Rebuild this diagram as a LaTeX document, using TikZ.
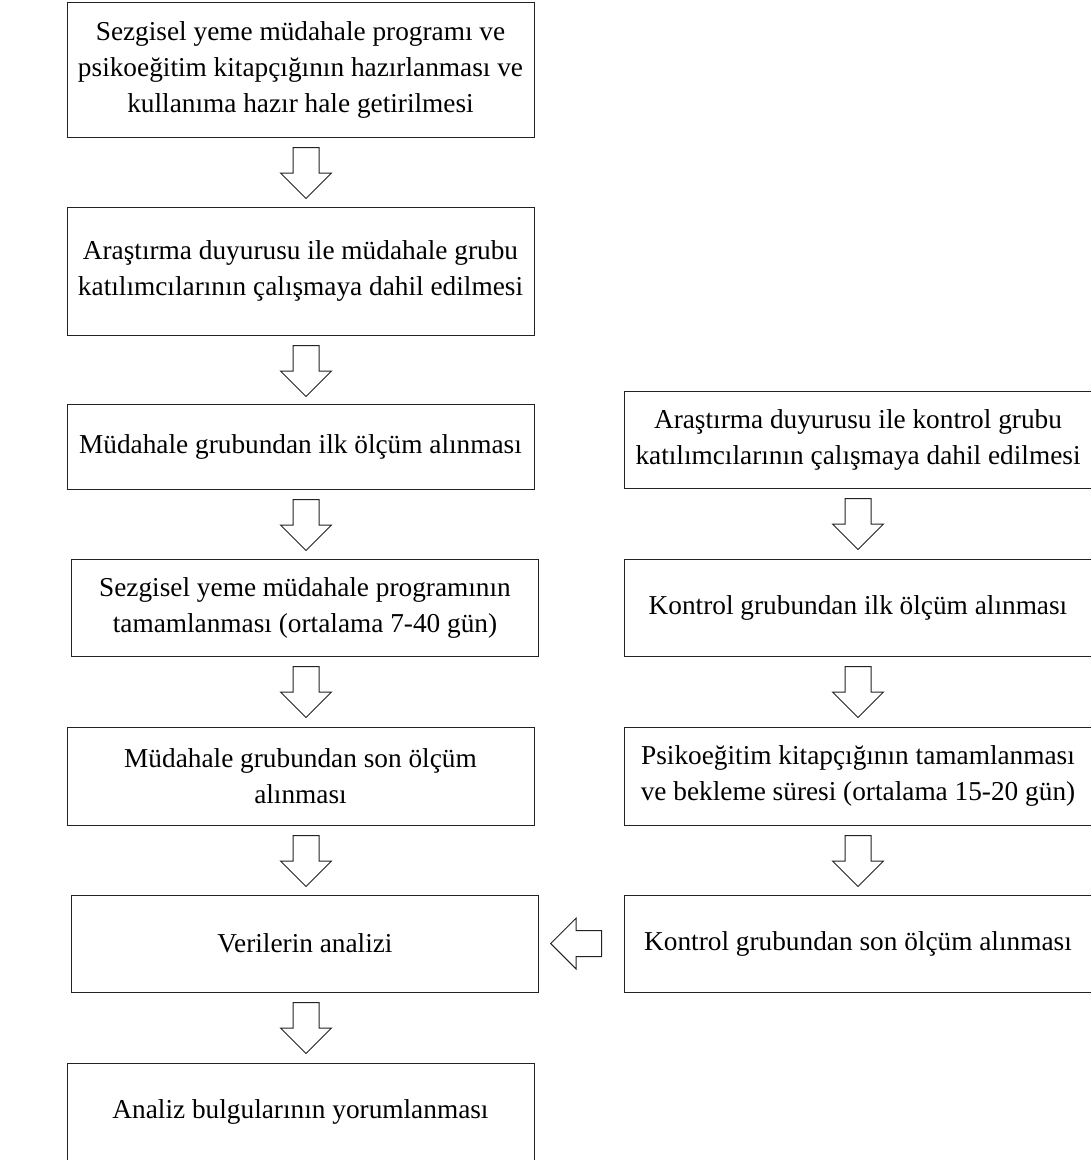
\documentclass[tikz,border=0pt]{standalone}
\usepackage{fontspec}
\setmainfont{Liberation Serif}
\usepackage{xcolor}
\usepackage{tikz}
\usetikzlibrary{shapes.arrows,calc}
\definecolor{boxline}{HTML}{222222}

\begin{document}
\begin{tikzpicture}[
    x=1pt, y=-1pt,
    stepbox/.style={draw=boxline, line width=1pt, align=center, inner sep=0pt, minimum width=467pt,
        font=\fontsize{27.3}{36}\selectfont},
    downarrow/.style={single arrow, draw=boxline, line width=1pt, minimum height=51pt, minimum width=50pt,
        single arrow head extend=12.5pt, inner sep=12.5pt, shape border rotate=270, anchor=tail},
    leftarrow/.style={downarrow, shape border rotate=180, anchor=tip}
]
\useasboundingbox (0,0) rectangle (1091,1160);
% intervention group
\node[stepbox, minimum height=135pt] (b1) at (300.5,69.5) {Sezgisel yeme müdahale programı ve\\psikoeğitim kitapçığının hazırlanması ve\\kullanıma hazır hale getirilmesi};
\node[stepbox, minimum height=128pt] (b2) at (300.5,271) {Araştırma duyurusu ile müdahale grubu\\katılımcılarının çalışmaya dahil edilmesi};
\node[stepbox, minimum height=85pt] (b3) at (300.5,446.5) {Müdahale grubundan ilk ölçüm alınması};
\node[stepbox, minimum height=97pt] (b4) at (305,607.5) {Sezgisel yeme müdahale programının\\tamamlanması (ortalama 7-40 gün)};
\node[stepbox, minimum height=98pt] (b5) at (300.5,776) {Müdahale grubundan son ölçüm\\alınması};
\node[stepbox, minimum height=97pt] (b6) at (305,943.5) {Verilerin analizi};
\node[stepbox, minimum height=98pt] (b7) at (300.5,1112) {Analiz bulgularının yorumlanması};
% control group
\node[stepbox, minimum width=468pt, minimum height=97pt] (k1) at (858,439.5) {Araştırma duyurusu ile kontrol grubu\\katılımcılarının çalışmaya dahil edilmesi};
\node[stepbox, minimum width=468pt, minimum height=97pt] (k2) at (858,607.5) {Kontrol grubundan ilk ölçüm alınması};
\node[stepbox, minimum width=468pt, minimum height=98pt] (k3) at (858,776) {Psikoeğitim kitapçığının tamamlanması\\ve bekleme süresi (ortalama 15-20 gün)};
\node[stepbox, minimum width=468pt, minimum height=97pt] (k4) at (858,943.5) {Kontrol grubundan son ölçüm alınması};
% block arrows
\node[downarrow] (a1) at ($(b1.south -| 306,0)+(0,9.5)$) {};
\node[downarrow] (a2) at ($(b2.south -| 306,0)+(0,9.5)$) {};
\node[downarrow] (a3) at ($(b3.south -| 306,0)+(0,9.5)$) {};
\node[downarrow] (a4) at ($(b4.south -| 306,0)+(0,9.5)$) {};
\node[downarrow] (a5) at ($(b5.south -| 306,0)+(0,9.5)$) {};
\node[downarrow] (a6) at ($(b6.south -| 306,0)+(0,9.5)$) {};
\node[downarrow] (c1) at ($(k1.south)+(0,9.5)$) {};
\node[downarrow] (c2) at ($(k2.south)+(0,9.5)$) {};
\node[downarrow] (c3) at ($(k3.south)+(0,9.5)$) {};
\node[leftarrow] (c4) at ($(b6.east)+(11,0)$) {};
\end{tikzpicture}
\end{document}
